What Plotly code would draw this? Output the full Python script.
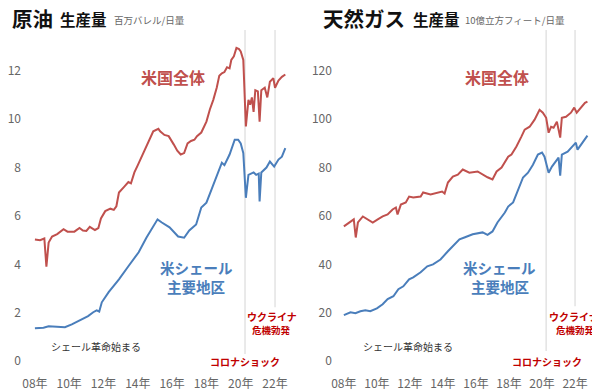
import plotly.graph_objects as go

# ---------------- data ----------------
oil_us_x = [2008.0, 2008.3, 2008.55, 2008.67, 2008.8, 2009.0, 2009.3, 2009.67, 2009.9, 2010.3,
            2010.6, 2010.8, 2011.0, 2011.2, 2011.5, 2011.7, 2011.85, 2012.1, 2012.4, 2012.6,
            2012.75, 2012.9, 2013.2, 2013.45, 2013.6, 2013.8, 2014.0, 2014.1, 2014.4, 2014.6,
            2014.9, 2015.2, 2015.3, 2015.55, 2015.8, 2016.1, 2016.3, 2016.5, 2016.7, 2016.9,
            2017.1, 2017.3, 2017.45, 2017.7, 2017.8, 2018.0, 2018.2, 2018.4, 2018.6, 2018.75,
            2018.9, 2019.05, 2019.2, 2019.35, 2019.45, 2019.6, 2019.75, 2019.9, 2020.0, 2020.15,
            2020.3, 2020.45, 2020.55, 2020.65, 2020.75, 2020.85, 2021.0, 2021.1, 2021.2, 2021.4,
            2021.55, 2021.7, 2021.9, 2022.0, 2022.2, 2022.4, 2022.6]
oil_us_y = [5.03, 5.0, 5.07, 3.9, 4.9, 5.15, 5.25, 5.45, 5.35, 5.35,
            5.5, 5.4, 5.38, 5.55, 5.42, 5.5, 5.9, 6.2, 6.3, 6.25,
            6.4, 6.97, 7.2, 7.4, 7.35, 7.8, 8.1, 8.25, 8.74, 9.0,
            9.5, 9.6, 9.5, 9.35, 9.3, 8.95, 8.7, 8.54, 8.6, 9.0,
            9.1, 9.15, 9.3, 9.45, 9.6, 9.9, 10.4, 10.8, 11.3, 11.8,
            11.9, 11.95, 12.15, 12.1, 12.45, 12.6, 12.95, 12.9, 12.8, 12.45,
            9.7, 10.8, 10.6, 10.9, 10.3, 11.2, 11.15, 9.9, 11.2, 11.3,
            10.9, 11.55, 11.7, 11.3, 11.6, 11.75, 11.85]

oil_shale_x = [2008.0, 2008.5, 2008.8, 2009.2, 2009.75, 2010.15, 2010.7, 2011.1, 2011.4, 2011.6,
               2011.75, 2011.9, 2012.3, 2012.9, 2013.45, 2014.05, 2014.5, 2014.9, 2015.15, 2015.4,
               2015.85, 2016.35, 2016.7, 2017.0, 2017.4, 2017.7, 2018.0, 2018.3, 2018.7, 2018.9,
               2019.05, 2019.35, 2019.65, 2019.85, 2020.0, 2020.15, 2020.3, 2020.45, 2020.75, 2020.9,
               2021.05, 2021.1, 2021.2, 2021.5, 2021.7, 2021.95, 2022.2, 2022.4, 2022.6]
oil_shale_y = [1.36, 1.38, 1.44, 1.42, 1.4, 1.52, 1.73, 1.86, 2.02, 2.1,
               2.05, 2.43, 2.85, 3.38, 3.92, 4.5, 5.1, 5.57, 5.86, 5.73,
               5.53, 5.15, 5.1, 5.4, 5.65, 6.35, 6.55, 7.1, 7.8, 8.2,
               8.1, 8.54, 9.15, 9.15, 9.0, 8.6, 6.75, 7.7, 7.8, 7.7,
               7.75, 6.6, 7.8, 8.0, 8.25, 8.04, 8.33, 8.45, 8.8]

gas_us_x = [2008.0, 2008.3, 2008.6, 2008.72, 2008.85, 2009.15, 2009.45, 2009.75, 2010.05, 2010.35,
            2010.65, 2010.95, 2011.15, 2011.25, 2011.45, 2011.75, 2011.95, 2012.2, 2012.65, 2012.8,
            2013.25, 2013.65, 2013.95, 2014.1, 2014.3, 2014.6, 2014.9, 2015.2, 2015.6, 2016.1,
            2016.4, 2016.7, 2017.0, 2017.25, 2017.55, 2017.95, 2018.15, 2018.45, 2018.75, 2018.95,
            2019.25, 2019.55, 2019.85, 2020.05, 2020.25, 2020.4, 2020.55, 2020.7, 2020.9, 2021.1,
            2021.2, 2021.45, 2021.75, 2021.95, 2022.1, 2022.4, 2022.6, 2022.75]
gas_us_y = [55.7, 57.3, 58.6, 51.1, 57.3, 59.8, 58.6, 57.3, 58.6, 59.8,
            60.6, 62.7, 63.5, 60.6, 64.7, 65.6, 68.0, 67.6, 68.0, 69.7,
            68.9, 69.7, 70.1, 69.3, 73.8, 76.3, 77.1, 79.2, 77.9, 78.4,
            77.1, 76.0, 75.1, 78.4, 80.0, 84.5, 85.4, 88.7, 92.8, 95.7,
            96.9, 99.8, 103.9, 102.7, 100.6, 94.4, 96.9, 96.5, 99.0, 92.4,
            100.6, 101.0, 102.7, 104.8, 102.7, 105.2, 106.8, 107.3]

gas_shale_x = [2008.0, 2008.4, 2008.7, 2009.0, 2009.3, 2009.6, 2010.0, 2010.35, 2010.65, 2011.0,
               2011.3, 2011.6, 2011.95, 2012.2, 2012.65, 2013.05, 2013.4, 2013.85, 2014.3, 2014.6,
               2015.0, 2015.3, 2015.8, 2016.4, 2016.7, 2017.0, 2017.3, 2017.75, 2017.95, 2018.25,
               2018.55, 2018.85, 2019.15, 2019.45, 2019.75, 2020.0, 2020.15, 2020.4, 2020.6, 2020.85,
               2021.0, 2021.1, 2021.2, 2021.55, 2021.85, 2022.05, 2022.15, 2022.45, 2022.75]
gas_shale_y = [19.0, 20.2, 19.8, 20.6, 21.0, 20.6, 21.8, 23.5, 25.6, 26.8,
               29.7, 30.9, 33.8, 34.6, 36.7, 39.2, 40.0, 42.0, 45.4, 47.4,
               50.3, 51.1, 52.4, 53.2, 52.2, 53.6, 57.3, 61.4, 63.9, 65.6,
               70.9, 75.9, 77.9, 81.2, 85.4, 86.2, 84.5, 77.9, 80.4, 82.5,
               84.1, 76.7, 85.4, 86.6, 88.7, 90.3, 87.4, 90.3, 93.2]

year_ticks = [2008, 2010, 2012, 2014, 2016, 2018, 2020, 2022]
year_labels = ["08年", "10年", "12年", "14年", "16年", "18年", "20年", "22年"]
oil_ticks = [0, 2, 4, 6, 8, 10, 12]
gas_ticks = [0, 20, 40, 60, 80, 100, 120]
event_dates = [2020.25, 2022.0]   # コロナショック, ウクライナ危機勃発

# ---------------- style ----------------
RED = "#c0504d"
BLUE = "#4a7ebb"
DARKRED = "#c00000"
FONT = "Noto Sans CJK JP"
OFF = 8                      # page body margin offset
W, H = 600 - OFF, 391 - OFF


def px(x):
    return (x - OFF) / W


def py(y):
    return 1 - (y - OFF) / H


fig = go.Figure()
fig.add_trace(go.Scatter(x=oil_us_x, y=oil_us_y, mode="lines", line=dict(color=RED, width=2),
                         xaxis="x", yaxis="y", showlegend=False, hoverinfo="skip"))
fig.add_trace(go.Scatter(x=oil_shale_x, y=oil_shale_y, mode="lines", line=dict(color=BLUE, width=2),
                         xaxis="x", yaxis="y", showlegend=False, hoverinfo="skip"))
fig.add_trace(go.Scatter(x=gas_us_x, y=gas_us_y, mode="lines", line=dict(color=RED, width=2),
                         xaxis="x2", yaxis="y2", showlegend=False, hoverinfo="skip"))
fig.add_trace(go.Scatter(x=gas_shale_x, y=gas_shale_y, mode="lines", line=dict(color=BLUE, width=2),
                         xaxis="x2", yaxis="y2", showlegend=False, hoverinfo="skip"))

ydom = [py(376), py(40)]
axis_font = dict(family=FONT, size=12, color="#666666")

xcommon = dict(tickmode="array", tickvals=year_ticks, ticktext=year_labels, showgrid=False,
               zeroline=False, showline=False, ticks="", tickfont=axis_font, fixedrange=True)
ycommon = dict(tickmode="array", showgrid=False, zeroline=False, showline=False, ticks="",
               tickfont=axis_font, fixedrange=True, domain=ydom)

fig.update_layout(
    width=W, height=H,
    margin=dict(l=0, r=0, t=0, b=0),
    paper_bgcolor="white", plot_bgcolor="white",
    font=dict(family=FONT),
    xaxis=dict(xcommon, domain=[px(20), px(292)], range=[2007.245, 2023.05], anchor="y"),
    yaxis=dict(ycommon, tickvals=oil_ticks, range=[-0.577, 13.278], anchor="x"),
    xaxis2=dict(xcommon, domain=[px(332), px(598)], range=[2007.336, 2023.39], anchor="y2"),
    yaxis2=dict(ycommon, tickvals=gas_ticks, range=[-5.77, 132.78], anchor="x2"),
)

# event lines
shapes = []
for xa, bottoms in (("x", [355, 308]), ("x2", [352, 307])):
    for d, b in zip(event_dates, bottoms):
        shapes.append(dict(type="line", xref=xa, yref="paper", x0=d, x1=d,
                           y0=py(b), y1=py(30), line=dict(color="#e3e3e3", width=1.5),
                           layer="below"))
fig.update_layout(shapes=shapes)

ann = []


def text(x, y, t, size, color, bold=False, xanchor="center"):
    s = f"<b>{t}</b>" if bold else t
    ann.append(dict(x=px(x), y=py(y), xref="paper", yref="paper", text=s, showarrow=False,
                    xanchor=xanchor, yanchor="middle", borderpad=0,
                    font=dict(family=FONT, size=size, color=color)))


# titles
text(9, 18, "原油", 20.5, "#111111", bold=True, xanchor="left")
text(57, 19.5, "生産量", 15.5, "#111111", bold=True, xanchor="left")
text(111, 20.5, "百万バレル/日量", 9.5, "#666666", xanchor="left")
text(321, 18, "天然ガス", 20.5, "#111111", bold=True, xanchor="left")
text(411, 19.5, "生産量", 15.5, "#111111", bold=True, xanchor="left")
text(464, 20.5, "10億立方フィート/日量", 9.5, "#666666", xanchor="left")

# left panel labels
text(172, 77, "米国全体", 16, RED, bold=True)
text(195, 268, "米シェール", 14.5, BLUE, bold=True)
text(195, 287, "主要地区", 14.5, BLUE, bold=True)
text(94, 347, "シェール革命始まる", 10, "#333333")
text(244, 362, "コロナショック", 10, DARKRED, bold=True)
text(271, 317, "ウクライナ", 10, DARKRED, bold=True)
text(270, 331, "危機勃発", 9.5, DARKRED, bold=True)

# right panel labels
text(497, 77, "米国全体", 16, RED, bold=True)
text(499, 268, "米シェール", 14.5, BLUE, bold=True)
text(500, 287, "主要地区", 14.5, BLUE, bold=True)
text(407, 347, "シェール革命始まる", 10, "#333333")
text(547, 362, "コロナショック", 10, DARKRED, bold=True)
text(574, 317, "ウクライナ", 10, DARKRED, bold=True)
text(575, 331, "危機勃発", 9.5, DARKRED, bold=True)

fig.update_layout(annotations=ann)
fig.write_html("out.html")
